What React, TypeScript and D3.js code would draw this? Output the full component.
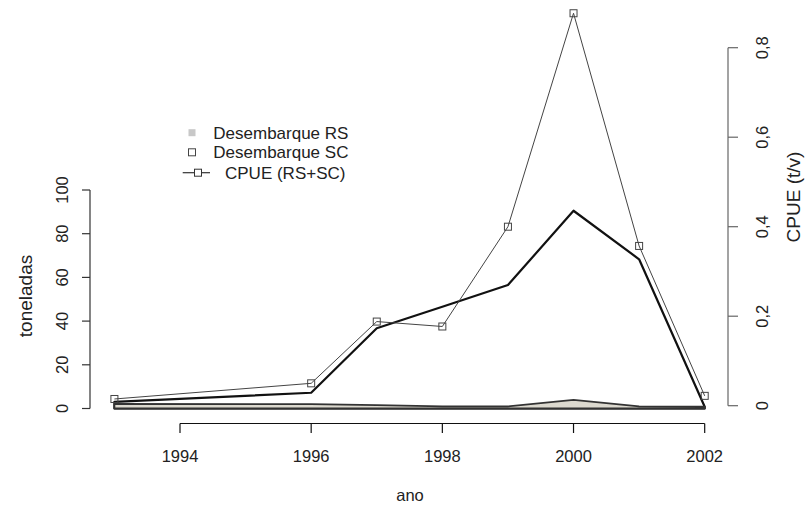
import React from "react";
import * as d3 from "d3";

const years = [1993, 1996, 1997, 1998, 1999, 2000, 2001, 2002];
const desembarqueSC = [3.0, 7.2, 36.7, 46.6, 56.5, 90.5, 68.3, 0.8];
const desembarqueRS = [2.1, 2.0, 1.5, 1.0, 1.0, 3.9, 1.0, 0.9];
const cpue = [0.015, 0.05, 0.188, 0.177, 0.4, 0.877, 0.357, 0.022];

const xTicks = [1994, 1996, 1998, 2000, 2002];
const leftTicks = [0, 20, 40, 60, 80, 100];
const rightTicks = [0, 0.2, 0.4, 0.6, 0.8];
const rightTickLabels = ["0", "0,2", "0,4", "0,6", "0,8"];
const legendLabels = ["Desembarque RS", "Desembarque SC", "CPUE (RS+SC)"];

const W = 809;
const H = 508;
const FONT = "'Liberation Sans', Arial, Helvetica, sans-serif";

export default function App() {
  const x = d3.scaleLinear().domain([1994, 2002]).range([180, 704.7]);
  const yL = d3.scaleLinear().domain([0, 100]).range([408.5, 190]);
  const yR = d3.scaleLinear().domain([0, 0.8]).range([405.7, 47.7]);

  const area = (vals: number[]) =>
    d3
      .area<number>()
      .x((_, i) => x(years[i]))
      .y0(() => yL(0))
      .y1((d) => yL(d))(vals) + "";

  const cpueLine =
    d3
      .line<number>()
      .x((_, i) => x(years[i]))
      .y((d) => yR(d))(cpue) + "";

  const sq = 7;
  const txt = "#222";

  return (
    <svg
      width={W}
      height={H}
      style={{ position: "absolute", left: 0, top: 0, background: "#fff" }}
      fontFamily={FONT}
    >
      <rect x={0} y={0} width={W} height={H} fill="#fff" />
      {/* SC polygon */}
      <path d={area(desembarqueSC)} fill="none" stroke="#111" strokeWidth={2.2} strokeLinejoin="round" />
      {/* RS polygon */}
      <path d={area(desembarqueRS)} fill="#dcd9cf" stroke="#333" strokeWidth={1.8} strokeLinejoin="round" />
      {/* CPUE line */}
      <path d={cpueLine} fill="none" stroke="#444" strokeWidth={1} />
      {cpue.map((v, i) => (
        <rect
          key={i}
          x={x(years[i]) - sq / 2}
          y={yR(v) - sq / 2}
          width={sq}
          height={sq}
          fill="none"
          stroke="#444"
          strokeWidth={1}
        />
      ))}

      {/* left axis */}
      <g stroke="#333" strokeWidth={1.2}>
        <line x1={90} x2={90} y1={yL(0)} y2={yL(100)} />
        {leftTicks.map((t) => (
          <line key={t} x1={82} x2={90} y1={yL(t)} y2={yL(t)} />
        ))}
      </g>
      {leftTicks.map((t) => (
        <text
          key={t}
          transform={`translate(62,${yL(t)}) rotate(-90)`}
          dy="0.36em"
          textAnchor="middle"
          fontSize={16.5}
          fill={txt}
        >
          {t}
        </text>
      ))}
      <text
        transform={`translate(25.5,296) rotate(-90)`}
        dy="0.36em"
        textAnchor="middle"
        fontSize={19}
        fill={txt}
      >
        toneladas
      </text>

      {/* x axis */}
      <g stroke="#111" strokeWidth={1.2}>
        <line x1={x(1994)} x2={x(2002)} y1={423.5} y2={423.5} />
        {xTicks.map((t) => (
          <line key={t} x1={x(t)} x2={x(t)} y1={423.5} y2={433} />
        ))}
      </g>
      {xTicks.map((t) => (
        <text key={t} x={x(t)} y={462} textAnchor="middle" fontSize={16.5} fill={txt}>
          {t}
        </text>
      ))}
      <text x={410} y={501} textAnchor="middle" fontSize={16.5} fill={txt}>
        ano
      </text>

      {/* right axis */}
      <g stroke="#666" strokeWidth={1.2}>
        <line x1={728} x2={728} y1={yR(0)} y2={yR(0.8)} />
        {rightTicks.map((t) => (
          <line key={t} x1={728} x2={738} y1={yR(t)} y2={yR(t)} />
        ))}
      </g>
      {rightTicks.map((t, i) => (
        <text
          key={t}
          transform={`translate(762,${yR(t)}) rotate(-90)`}
          dy="0.36em"
          textAnchor="middle"
          fontSize={16.5}
          fill={txt}
        >
          {rightTickLabels[i]}
        </text>
      ))}
      <text
        transform={`translate(793,197) rotate(-90)`}
        dy="0.36em"
        textAnchor="middle"
        fontSize={19}
        fill={txt}
      >
        CPUE (t/v)
      </text>

      {/* legend */}
      <rect x={192 - 3.5} y={132.7 - 3.5} width={7} height={7} fill="#c8c8c8" />
      <rect x={192 - 3.5} y={152.3 - 3.5} width={7} height={7} fill="none" stroke="#444" strokeWidth={1} />
      <line x1={182.7} x2={210} y1={172.7} y2={172.7} stroke="#333" strokeWidth={1.2} />
      <rect x={198 - 3.5} y={172.7 - 3.5} width={7} height={7} fill="#fff" stroke="#333" strokeWidth={1} />
      <text x={213.3} y={132.7} dy="0.36em" fontSize={17} fill={txt}>
        {legendLabels[0]}
      </text>
      <text x={213.3} y={152.3} dy="0.36em" fontSize={17} fill={txt}>
        {legendLabels[1]}
      </text>
      <text x={225} y={172.7} dy="0.36em" fontSize={17} fill={txt}>
        {legendLabels[2]}
      </text>
    </svg>
  );
}
